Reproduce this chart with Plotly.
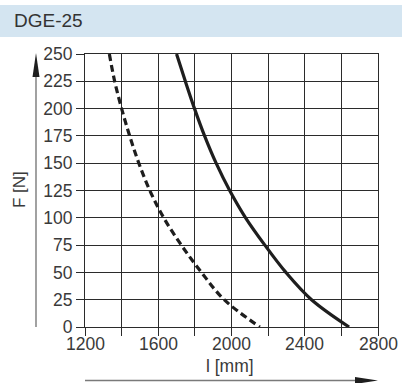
import plotly.graph_objects as go

# Force F [N] over length l [mm] for DGE-25
force_n = [250, 225, 200, 175, 150, 125, 100, 75, 50, 25, 0]
length_solid_mm = [1700, 1748, 1798, 1853, 1916, 1990, 2077, 2182, 2297, 2437, 2642]
length_dashed_mm = [1333, 1362, 1400, 1444, 1494, 1554, 1630, 1726, 1836, 1960, 2155]

x_tick_vals = [1200, 1400, 1600, 1800, 2000, 2200, 2400, 2600, 2800]
x_label_vals = [1200, 1600, 2000, 2400, 2800]
y_tick_vals = [0, 25, 50, 75, 100, 125, 150, 175, 200, 225, 250]

W, H = 402, 383
L, R, T, B = 85, 24, 54, 56
PW, PH = W - L - R, H - T - B


def px(x):
    return (x - L) / PW


def py(y):
    return (H - B - y) / PH


INK = "#1e1e1e"
TEXT = "#3a3a3a"
GRID = "#2b2b2b"
FONT = "Liberation Sans, Arial, sans-serif"
TICK_SIZE = 17.5

fig = go.Figure()
fig.add_trace(go.Scatter(
    x=length_dashed_mm, y=force_n, mode="lines",
    line=dict(color=INK, width=3.2, dash="7px,4px", shape="spline", smoothing=1.0),
    hoverinfo="skip", showlegend=False,
))
fig.add_trace(go.Scatter(
    x=length_solid_mm, y=force_n, mode="lines",
    line=dict(color=INK, width=3.2, shape="spline", smoothing=1.0),
    hoverinfo="skip", showlegend=False,
))

axis_common = dict(
    showgrid=True, gridcolor=GRID, gridwidth=1,
    showline=True, linecolor=GRID, linewidth=1, mirror=True,
    ticks="outside", ticklen=8, tickcolor=GRID, tickwidth=1,
    zeroline=False, fixedrange=True,
    tickfont=dict(family=FONT, size=TICK_SIZE, color=TEXT),
)

fig.update_xaxes(range=[1200, 2800], tickmode="array",
                 tickvals=x_tick_vals, showticklabels=False, **axis_common)
fig.update_yaxes(range=[0, 250], tickmode="array",
                 tickvals=y_tick_vals, **axis_common)

shapes = [
    # title band
    dict(type="rect", xref="paper", yref="paper",
         x0=px(0), x1=px(W), y0=py(37), y1=py(5),
         fillcolor="#d4e5f1", line=dict(width=0), layer="below"),
    # vertical arrow
    dict(type="line", xref="paper", yref="paper",
         x0=px(36), x1=px(36), y0=py(327), y1=py(70),
         line=dict(color="#7a7a7a", width=1.4)),
    dict(type="path", xref="paper", yref="paper",
         path=f"M {px(32.5)} {py(77)} L {px(36)} {py(53)} L {px(39.5)} {py(77)} Z",
         fillcolor=INK, line=dict(width=0)),
    # horizontal arrow
    dict(type="line", xref="paper", yref="paper",
         x0=px(85), x1=px(360), y0=py(380.5), y1=py(380.5),
         line=dict(color="#7a7a7a", width=1.4)),
    dict(type="path", xref="paper", yref="paper",
         path=f"M {px(355)} {py(377)} L {px(378)} {py(380.5)} L {px(355)} {py(384)} Z",
         fillcolor=INK, line=dict(width=0)),
]

annotations = [
    dict(text="DGE-25", xref="paper", yref="paper", x=px(12), y=py(21),
         xanchor="left", yanchor="middle", showarrow=False,
         font=dict(family=FONT, size=19, color="#333333")),
    dict(text="F [N]", xref="paper", yref="paper", x=px(19), y=py(190),
         xanchor="center", yanchor="middle", textangle=-90, showarrow=False,
         font=dict(family=FONT, size=17, color=TEXT)),
    dict(text="l [mm]", xref="paper", yref="paper", x=px(230), y=py(366),
         xanchor="center", yanchor="middle", showarrow=False,
         font=dict(family=FONT, size=17.5, color=TEXT)),
]
# x tick labels, set just below the tick marks
for v in x_label_vals:
    annotations.append(dict(
        text=str(v), xref="x", yref="paper", x=v, y=py(344),
        xanchor="center", yanchor="middle", showarrow=False,
        font=dict(family=FONT, size=TICK_SIZE, color=TEXT)))

fig.update_layout(
    width=W, height=H,
    margin=dict(l=L, r=R, t=T, b=B, pad=0),
    paper_bgcolor="white", plot_bgcolor="white",
    shapes=shapes, annotations=annotations,
    showlegend=False,
)

fig.write_html("out.html", config={"displayModeBar": False})
